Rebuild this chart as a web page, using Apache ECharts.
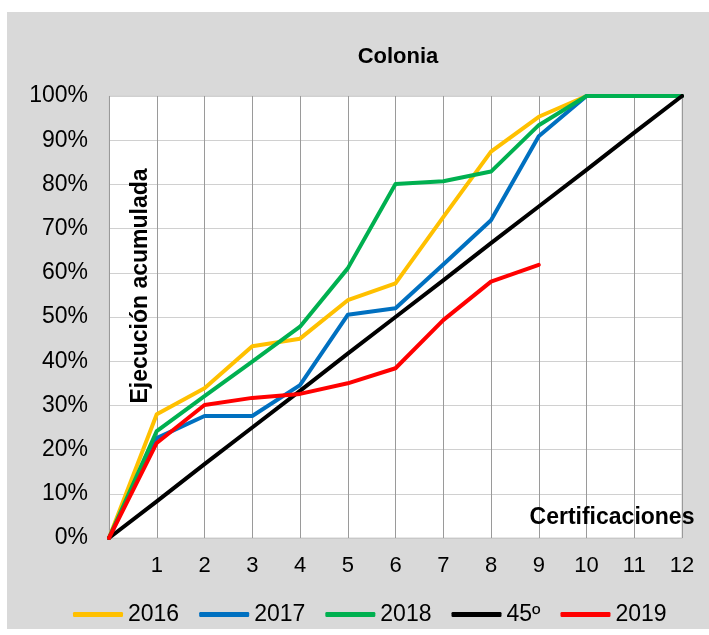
<!DOCTYPE html>
<html>
<head>
<meta charset="utf-8">
<script src="https://cdn.jsdelivr.net/npm/echarts@6/dist/echarts.min.js"></script>
<style>
    html, body { margin: 0; padding: 0; background: #ffffff; }
    #chart { width: 709px; height: 635px; }
</style>
</head>
<body>
<div id="chart"></div>
<script>
// certificaciones (eje x)
const certificaciones = [0, 1, 2, 3, 4, 5, 6, 7, 8, 9, 10, 11, 12];

// ejecución acumulada en %
const serie2016 = [0, 28, 33.9, 43.4, 45.1, 53.8, 57.6, 72.6, 87.4, 95.3, 100, 100, 100];
const serie2017 = [0, 22.6, 27.6, 27.6, 34.6, 50.5, 52, 61.9, 71.9, 90.9, 100, 100, 100];
const serie2018 = [0, 24.2, 32.1, 39.9, 47.8, 61, 80.1, 80.7, 82.9, 93.4, 100, 100, 100];
const serie45 = [0, 8.3, 16.7, 25, 33.3, 41.7, 50, 58.3, 66.7, 75, 83.3, 91.7, 100];
const serie2019 = [0, 21.5, 30.1, 31.7, 32.6, 35, 38.4, 49.3, 58, 61.8];

const nombres = ['2016', '2017', '2018', '45º', '2019'];
const colores = ['#FFC000', '#0070C0', '#00B050', '#000000', '#FF0000'];

window.onload = () => {
    new GraficoColonia().main();
};

class GraficoColonia {
    chart;

    main() {
        this.chart = echarts.init(document.getElementById('chart'));
        this.chart.setOption(this.buildOption());
    }

    toPairs(values) {
        return values.map((v, i) => [certificaciones[i], v]);
    }

    buildOption() {
        let valores = [serie2016, serie2017, serie2018, serie45, serie2019];
        let font = 'Liberation Sans, Arial, sans-serif';

        return {
            animation: false,
            backgroundColor: '#ffffff',
            textStyle: { fontFamily: font },
            graphic: [
                {
                    type: 'rect', z: -10, silent: true,
                    shape: { x: 7, y: 12, width: 702, height: 617 },
                    style: { fill: '#d9d9d9' }
                },
                {
                    type: 'text', z: 10,
                    x: 398, y: 57,
                    style: {
                        text: 'Colonia', fontFamily: font, fontWeight: 'bold',
                        fontSize: 22, fill: '#000', align: 'center', verticalAlign: 'middle'
                    }
                },
                {
                    type: 'text', z: 10,
                    x: 612, y: 518,
                    style: {
                        text: 'Certificaciones', fontFamily: font, fontWeight: 'bold',
                        fontSize: 23, fill: '#000', align: 'center', verticalAlign: 'middle'
                    }
                },
                {
                    type: 'text', z: 10,
                    x: 141, y: 286, rotation: Math.PI / 2,
                    style: {
                        text: 'Ejecución acumulada', fontFamily: font, fontWeight: 'bold',
                        fontSize: 23, fill: '#000', align: 'center', verticalAlign: 'middle'
                    }
                }
            ],
            grid: {
                left: 109, top: 96, right: 27, bottom: 97,
                show: true, backgroundColor: '#ffffff', borderColor: '#d0d0d0', borderWidth: 1
            },
            legend: {
                left: 68, top: 598,
                itemWidth: 50, itemHeight: 5, itemGap: 20,
                icon: 'roundRect',
                textStyle: { fontSize: 23, color: '#000', fontFamily: font },
                data: nombres
            },
            xAxis: {
                type: 'value', min: 0, max: 12, interval: 1,
                axisLine: { show: true, lineStyle: { color: '#c8c8c8' } },
                axisTick: { show: false },
                axisLabel: {
                    margin: 17, fontSize: 22, color: '#000',
                    formatter: v => v === 0 ? '' : String(v)
                },
                splitLine: { show: true, lineStyle: { color: '#9a9a9a', width: 1 } }
            },
            yAxis: {
                type: 'value', min: 0, max: 100, interval: 10,
                axisLine: { show: false },
                axisTick: { show: false },
                axisLabel: { margin: 21, fontSize: 23, color: '#000', formatter: '{value}%' },
                splitLine: { show: true, lineStyle: { color: '#d0d0d0', width: 1 } }
            },
            series: nombres.map((n, i) => ({
                name: n,
                type: 'line',
                data: this.toPairs(valores[i]),
                symbol: 'none',
                color: colores[i],
                lineStyle: { width: 4, color: colores[i], cap: 'round', join: 'round' }
            }))
        };
    }
}
</script>
</body>
</html>
